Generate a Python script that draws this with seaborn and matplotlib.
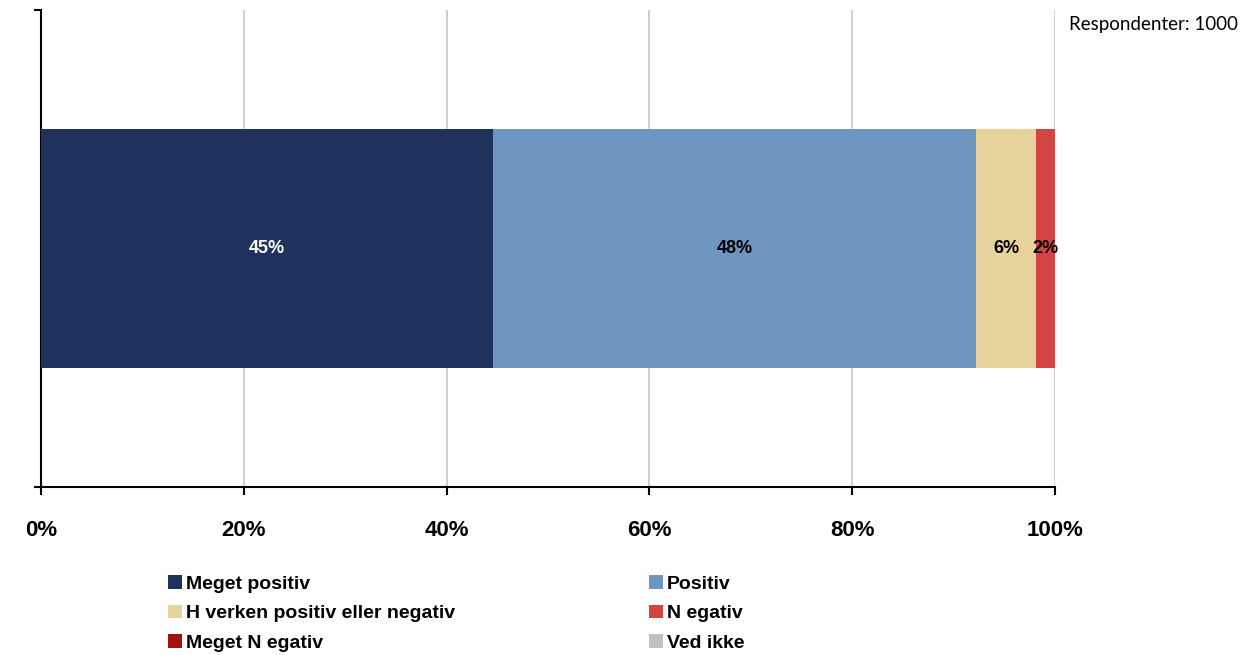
import matplotlib

matplotlib.use("Agg")
import matplotlib.pyplot as plt
import seaborn as sns
from matplotlib.patches import Patch

# answer categories, shares (%) and colours
categories = ["Meget positiv", "Positiv", "Hverken positiv eller negativ",
              "Negativ", "Meget Negativ", "Ved ikke"]
legend_labels = ["Meget positiv", "Positiv", "H verken positiv eller negativ",
                 "N egativ", "Meget N egativ", "Ved ikke"]
shares = [44.6, 47.6, 5.9, 1.9, 0.0, 0.0]
bar_labels = ["45%", "48%", "6%", "2%", "", ""]
label_colors = ["white", "black", "black", "black", "black", "black"]
colors = ["#1F325C", "#6E96C0", "#E6D39B", "#D24545", "#A01212", "#C0C0C0"]
xticks = [0, 20, 40, 60, 80, 100]
respondents = "Respondenter: 1000"

sns.set_style("white")
plt.rcParams["font.family"] = ["Liberation Sans", "DejaVu Sans"]
plt.rcParams["text.color"] = "black"
plt.rcParams["xtick.color"] = "black"
plt.rcParams["ytick.color"] = "black"

fig = plt.figure(figsize=(12.56, 6.55), dpi=100)
ax = fig.add_axes([0.0326, 0.2565, 0.8075, 0.728])

# stacked bar: draw cumulative totals from the back so each segment shows
cum = []
total = 0.0
for s in shares:
    total += s
    cum.append(total)

for c, col in reversed(list(zip(cum, colors))):
    if c <= 0:
        continue
    sns.barplot(x=[c], y=[""], color=col, width=0.5, orient="h",
                saturation=1, linewidth=0, ax=ax, zorder=3)

starts = [c - s for c, s in zip(cum, shares)]
for st, s, lab, tc in zip(starts, shares, bar_labels, label_colors):
    if lab:
        ax.text(st + s / 2, 0, lab, ha="center", va="center",
                fontsize=13, fontweight="bold", color=tc, zorder=5)

ax.set_xlim(0, 100)
ax.set_ylim(0.5, -0.5)
ax.set_xticks(xticks)
ax.set_xticklabels([f"{t}%" for t in xticks], fontsize=16, fontweight="bold",
                   color="black")
ax.set_yticks([0.5, -0.5])
ax.set_yticklabels([])
ax.set_xlabel("")
ax.set_ylabel("")
ax.xaxis.grid(True, color="#C8C8C8", linewidth=1.2, zorder=0)
ax.set_axisbelow(True)
for side in ["top", "right"]:
    ax.spines[side].set_visible(False)
for side in ["left", "bottom"]:
    ax.spines[side].set_color("black")
    ax.spines[side].set_linewidth(1.5)
ax.tick_params(axis="x", bottom=True, direction="out", length=6, width=1.5,
               color="black", pad=18)
ax.tick_params(axis="y", left=True, direction="out", length=5, width=1.5,
               color="black")

fig.text(0.851, 0.962, respondents, fontsize=13.5, color="black",
         family=["Lato", "DejaVu Sans"], ha="left", va="center")

# legend: two columns, row-major order like the original
order = [0, 2, 4, 1, 3, 5]
handles = [Patch(facecolor=colors[i], edgecolor="none") for i in order]
labels = [legend_labels[i] for i in order]
leg = fig.legend(handles, labels, ncol=2, loc="upper left",
                 bbox_to_anchor=(0.134, 0.122), frameon=False,
                 prop={"size": 14, "weight": "bold"}, handlelength=0.7,
                 handleheight=0.7, handletextpad=0.2, columnspacing=10,
                 labelspacing=0.62, borderaxespad=0, borderpad=0)
for t in leg.get_texts():
    t.set_color("black")

fig.savefig("out.png", dpi=100)
